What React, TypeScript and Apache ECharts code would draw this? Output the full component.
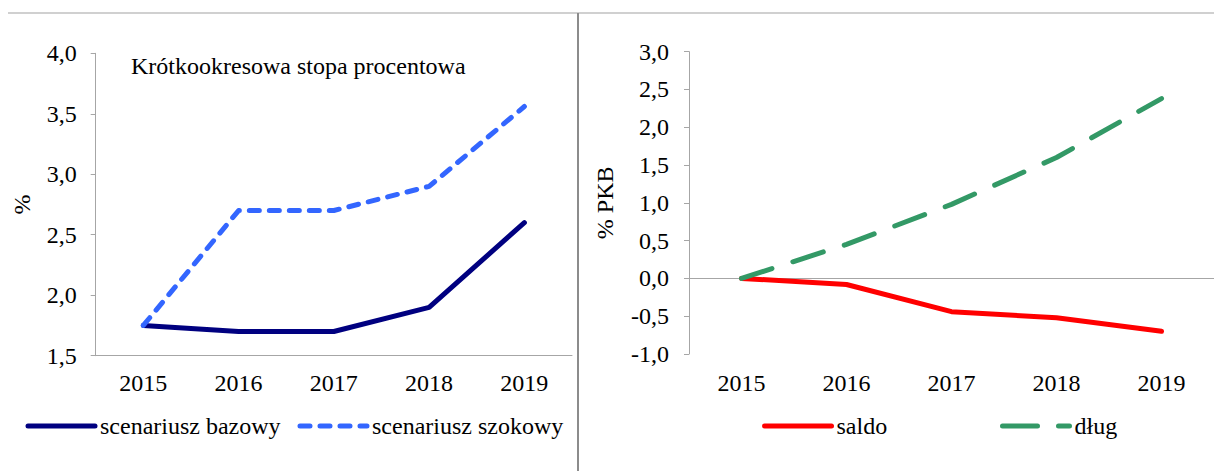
import React, { useEffect, useRef } from "react";
import * as echarts from "echarts";

const years = ["2015", "2016", "2017", "2018", "2019"];
const bazowy = [1.75, 1.7, 1.7, 1.9, 2.6];
const szokowy = [1.75, 2.7, 2.7, 2.9, 3.56];
const saldo = [0, -0.08, -0.44, -0.52, -0.7];
const dlug = [0, 0.45, 0.98, 1.6, 2.38];

const leftTitle = "Krótkookresowa stopa procentowa";
const leftYName = "%";
const rightYName = "% PKB";
const nameBazowy = "scenariusz bazowy";
const nameSzokowy = "scenariusz szokowy";
const nameSaldo = "saldo";
const nameDlug = "dług";

const FONT = "Liberation Serif";
const FS = 24;
const fmt = (v: number) => v.toFixed(1).replace(".", ",");
const AXIS_GREY = "#a6a6a6";

const C_BAZ = "#000080";
const C_SZOK = "#3366ff";
const C_SALDO = "#ff0000";
const C_DLUG = "#339966";
const LW = 5;
const DASH_SHORT = [10, 10];
const DASH_LONG = [32, 22];

export default function App() {
  const ref = useRef<HTMLDivElement>(null);
  useEffect(() => {
    document.body.style.margin = "0";
    const chart = echarts.init(ref.current!, null, { renderer: "svg" });
    const txt = { color: "#000", fontFamily: FONT, fontSize: FS };
    const legendBase = (left: number, name: string, lineStyle: any) => ({
      left,
      top: 409,
      data: [name],
      itemWidth: 67,
      itemHeight: 14,
      itemGap: 0,
      textStyle: { ...txt },
      selectedMode: false,
      itemStyle: { opacity: 0 },
      lineStyle: { width: LW, cap: "round", ...lineStyle },
    });
    chart.setOption({
      animation: false,
      textStyle: { fontFamily: FONT },
      grid: [
        { left: 95.7, top: 53.3, width: 476.3, height: 302.4 },
        { left: 689, top: 51.7, width: 532, height: 302.3 },
      ],
      xAxis: [
        {
          gridIndex: 0,
          type: "category",
          data: years,
          position: "bottom",
          axisLine: { onZero: false, lineStyle: { color: AXIS_GREY } },
          axisTick: { length: 5, lineStyle: { color: AXIS_GREY } },
          axisLabel: { ...txt, margin: 15 },
        },
        {
          gridIndex: 1,
          type: "category",
          data: years,
          position: "bottom",
          axisLine: { show: false, onZero: false },
          axisTick: { show: false },
          axisLabel: { ...txt, margin: 17 },
        },
        {
          gridIndex: 1,
          type: "category",
          data: years,
          position: "bottom",
          axisLine: { onZero: true, lineStyle: { color: AXIS_GREY } },
          axisTick: { length: 6, lineStyle: { color: AXIS_GREY } },
          axisLabel: { show: false },
        },
      ],
      yAxis: [
        {
          gridIndex: 0,
          type: "value",
          min: 1.5,
          max: 4,
          interval: 0.5,
          name: leftYName,
          nameLocation: "middle",
          nameRotate: 90,
          nameGap: 62,
          nameTextStyle: { ...txt },
          axisLine: { show: true, lineStyle: { color: AXIS_GREY } },
          axisTick: { show: true, length: 5, lineStyle: { color: AXIS_GREY } },
          splitLine: { show: false },
          axisLabel: { ...txt, margin: 19, formatter: fmt },
        },
        {
          gridIndex: 1,
          type: "value",
          min: -1,
          max: 3,
          interval: 0.5,
          name: rightYName,
          nameLocation: "middle",
          nameRotate: 90,
          nameGap: 72,
          nameTextStyle: { ...txt },
          axisLine: { show: true, lineStyle: { color: AXIS_GREY } },
          axisTick: { show: true, length: 5, lineStyle: { color: AXIS_GREY } },
          splitLine: { show: false },
          axisLabel: { ...txt, margin: 20, formatter: fmt },
        },
      ],
      legend: [
        legendBase(20.5, nameBazowy, { color: C_BAZ, type: "solid" }),
        legendBase(292.5, nameSzokowy, { color: C_SZOK, type: DASH_SHORT }),
        legendBase(757, nameSaldo, { color: C_SALDO, type: "solid" }),
        legendBase(995, nameDlug, { color: C_DLUG, type: [35, 21] }),
      ],
      graphic: [
        {
          type: "line",
          shape: { x1: 8, y1: 13, x2: 1214, y2: 13 },
          style: { stroke: "#c0c0c0", lineWidth: 1.5 },
        },
        {
          type: "line",
          shape: { x1: 578, y1: 13, x2: 578, y2: 471 },
          style: { stroke: "#8c8c8c", lineWidth: 2 },
        },
        {
          type: "text",
          x: 131,
          y: 66,
          style: {
            text: leftTitle,
            fontFamily: FONT,
            fontSize: FS,
            fill: "#000",
            verticalAlign: "middle",
          },
        },
      ],
      series: [
        {
          name: nameBazowy,
          type: "line",
          xAxisIndex: 0,
          yAxisIndex: 0,
          data: bazowy,
          symbol: "none",
          lineStyle: { color: C_BAZ, width: LW, cap: "round", join: "round" },
          itemStyle: { color: C_BAZ },
        },
        {
          name: nameSzokowy,
          type: "line",
          xAxisIndex: 0,
          yAxisIndex: 0,
          data: szokowy,
          symbol: "none",
          lineStyle: { color: C_SZOK, width: LW, type: DASH_SHORT, cap: "round", join: "round" },
          itemStyle: { color: C_SZOK },
        },
        {
          name: nameSaldo,
          type: "line",
          xAxisIndex: 1,
          yAxisIndex: 1,
          data: saldo,
          symbol: "none",
          lineStyle: { color: C_SALDO, width: LW, cap: "round", join: "round" },
          itemStyle: { color: C_SALDO },
        },
        {
          name: nameDlug,
          type: "line",
          xAxisIndex: 1,
          yAxisIndex: 1,
          data: dlug,
          symbol: "none",
          lineStyle: { color: C_DLUG, width: LW, type: DASH_LONG, cap: "round", join: "round" },
          itemStyle: { color: C_DLUG },
        },
      ],
    });
    return () => chart.dispose();
  }, []);
  return <div ref={ref} style={{ width: 1214, height: 471 }} />;
}
